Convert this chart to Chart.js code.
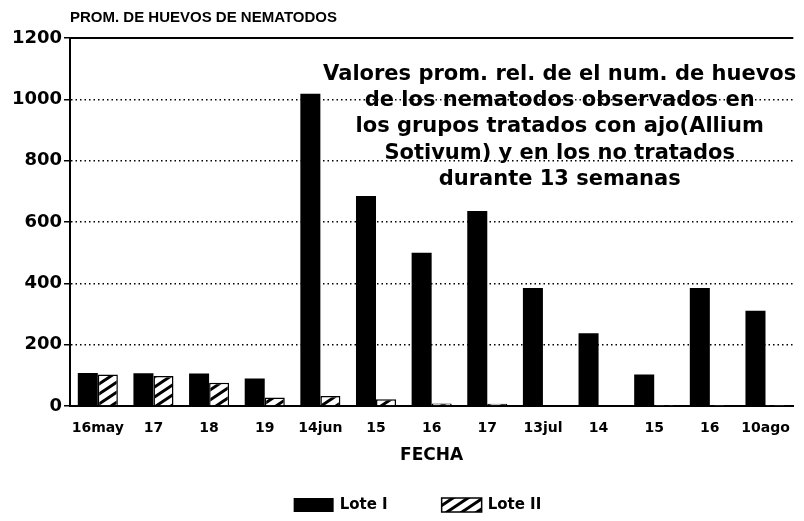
<!DOCTYPE html>
<html>
<head>
<meta charset="utf-8">
<script src="https://cdn.jsdelivr.net/npm/chart.js@4"></script>
<style>
  html, body { margin: 0; padding: 0; background: #fff; }
  #wrap { width: 804px; height: 521px; position: relative; }
</style>
</head>
<body>
<div id="wrap"><canvas id="huevos-chart"></canvas></div>
<script>
// datos
const fechas = ['16may', '17', '18', '19', '14jun', '15', '16', '17', '13jul', '14', '15', '16', '10ago'];
const loteI = [108, 107, 106, 90, 1018, 685, 500, 636, 385, 237, 103, 385, 311];
const loteII = [103, 98, 76, 28, 33, 22, 8, 7, 2, 2, 1, 1, 1];
const yTicks = [0, 200, 400, 600, 800, 1000, 1200];
const tituloY = 'PROM. DE HUEVOS DE NEMATODOS';
const tituloX = 'FECHA';
const nota = [
    'Valores prom. rel. de el num. de huevos',
    'de los nematodos observados en',
    'los grupos tratados con ajo(Allium',
    'Sotivum) y en los no tratados',
    'durante 13 semanas'
];

const FONT = "'DejaVu Sans', 'Liberation Sans', Arial, sans-serif";
const FONT2 = "'Liberation Sans', Arial, sans-serif";

// rayado diagonal para Lote II
function makeHatch() {
    let w = 15, h = 10;
    let c = document.createElement('canvas');
    c.width = w; c.height = h;
    let g = c.getContext('2d');
    g.fillStyle = '#fff';
    g.fillRect(0, 0, w, h);
    g.strokeStyle = '#000';
    g.lineWidth = 3;
    g.beginPath();
    for (let k = -1; k <= 1; k++) {
        g.moveTo(k * w - w / 2, h * 1.5);
        g.lineTo(k * w + w * 1.5, -h / 2);
    }
    g.stroke();
    return g.createPattern(c, 'repeat');
}
const hatch = makeHatch();

// marco superior, titulo del eje y, nota y leyenda
const extras = {
    id: 'extras',
    afterDraw(chart) {
        const ctx = chart.ctx;
        const a = chart.chartArea;
        const y = chart.scales.y;
        ctx.save();
        ctx.strokeStyle = '#000';
        ctx.lineWidth = 2;
        ctx.beginPath();
        ctx.moveTo(a.left, y.getPixelForValue(1200));
        ctx.lineTo(a.right, y.getPixelForValue(1200));
        ctx.stroke();

        ctx.fillStyle = '#000';
        ctx.font = 'bold 15px ' + FONT2;
        ctx.textAlign = 'left';
        ctx.textBaseline = 'middle';
        ctx.fillText(tituloY, a.left, a.top - 20);

        ctx.font = 'bold 21px ' + FONT;
        ctx.textAlign = 'center';
        const cx = a.left + (a.right - a.left) * 0.677;
        nota.forEach((t, i) => {
            ctx.fillText(t, cx, y.getPixelForValue(1082 - i * 86));
        });

        // leyenda
        const ly = chart.height - 16;
        let lx = (a.left + a.right) / 2 - 138;
        ctx.font = 'bold 15px ' + FONT;
        ctx.textAlign = 'left';
        chart.data.datasets.forEach((ds) => {
            ctx.fillStyle = ds.backgroundColor;
            ctx.fillRect(lx, ly - 7, 40, 14);
            if (ds.borderWidth) {
                ctx.lineWidth = 1.5;
                ctx.strokeStyle = '#000';
                ctx.strokeRect(lx, ly - 7, 40, 14);
            }
            ctx.fillStyle = '#000';
            ctx.fillText(ds.label, lx + 46, ly);
            lx += 148;
        });
        ctx.restore();
    }
};

const ctx = document.getElementById('huevos-chart');
new Chart(ctx, {
    type: 'bar',
    plugins: [extras],
    data: {
        labels: fechas,
        datasets: [
            {
                label: 'Lote I',
                data: loteI,
                backgroundColor: '#000',
                borderColor: '#000',
                borderWidth: 0,
                categoryPercentage: 0.72,
                barPercentage: 1
            },
            {
                label: 'Lote II',
                data: loteII,
                backgroundColor: hatch,
                borderColor: '#000',
                borderWidth: 1.5,
                categoryPercentage: 0.72,
                barPercentage: 1
            }
        ]
    },
    options: {
        responsive: true,
        maintainAspectRatio: false,
        animation: false,
        layout: { padding: { top: 38, right: 6, left: 0, bottom: 0 } },
        plugins: {
            tooltip: { enabled: false },
            legend: { display: false }
        },
        scales: {
            x: {
                grid: { display: false, drawTicks: false },
                border: { color: '#000', width: 2 },
                ticks: {
                    color: '#000',
                    padding: 14,
                    maxRotation: 0,
                    autoSkip: false,
                    font: { family: FONT, size: 14, weight: 'bold' }
                },
                title: {
                    display: true,
                    text: tituloX,
                    color: '#000',
                    padding: { top: 8, bottom: 55 },
                    font: { family: FONT, size: 17, weight: 'bold' }
                },
                afterFit(scale) { scale.height = 115; }
            },
            y: {
                min: 0,
                max: 1200,
                afterBuildTicks(scale) { scale.ticks = yTicks.map(v => ({ value: v })); },
                grid: {
                    color: (c) => (c.tick && (c.tick.value === 0 || c.tick.value === 1200)) ? 'rgba(0,0,0,0)' : '#000',
                    lineWidth: 1.5,
                    tickColor: '#000',
                    tickLength: 6,
                    tickBorderDash: []
                },
                border: { color: '#000', width: 2, dash: [1.5, 3] },
                ticks: {
                    color: '#000',
                    padding: 2,
                    font: { family: FONT, size: 18, weight: 'bold' },
                    callback: (v) => String(v)
                },
                afterFit(scale) { scale.width = 70; }
            }
        }
    }
});
</script>
</body>
</html>
